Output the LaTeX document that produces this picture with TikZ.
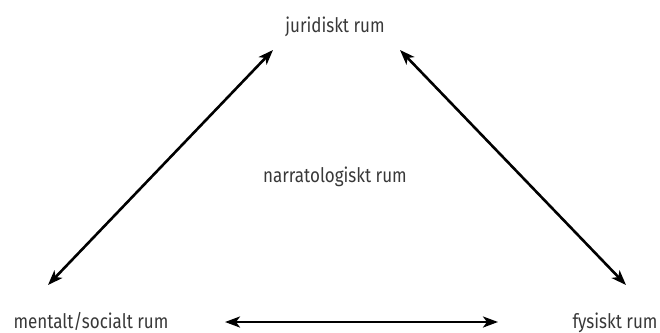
\documentclass[tikz,border=0pt]{standalone}
\usepackage{fontspec}
\setmainfont[FakeStretch=0.85]{Fira Sans}
\usetikzlibrary{arrows.meta}
\begin{document}
\begin{tikzpicture}[x=1pt,y=-1pt,
  lbl/.style={font=\fontsize{20}{24}\selectfont, text=black!78, inner sep=0pt, anchor=base},
  dbl/.style={{Stealth[length=15pt,width=11pt,inset=4pt]}-{Stealth[length=15pt,width=11pt,inset=4pt]}, line width=2.6pt}]
\useasboundingbox (0,0) rectangle (660,332);
\node[lbl] (jur) at (335,32) {juridiskt rum};
\node[lbl] (nar) at (335,182) {narratologiskt rum};
\node[lbl] (men) at (91,328) {mentalt/socialt rum};
\node[lbl] (fys) at (615,328) {fysiskt rum};
\coordinate (l1) at (48,285);
\coordinate (l2) at (273,50);
\coordinate (r1) at (400,50);
\coordinate (r2) at (626,285);
\coordinate (b1) at (225,322);
\coordinate (b2) at (498,322);
\draw[dbl] (l1) -- (l2);
\draw[dbl] (r1) -- (r2);
\draw[dbl] (b1) -- (b2);
\end{tikzpicture}
\end{document}
